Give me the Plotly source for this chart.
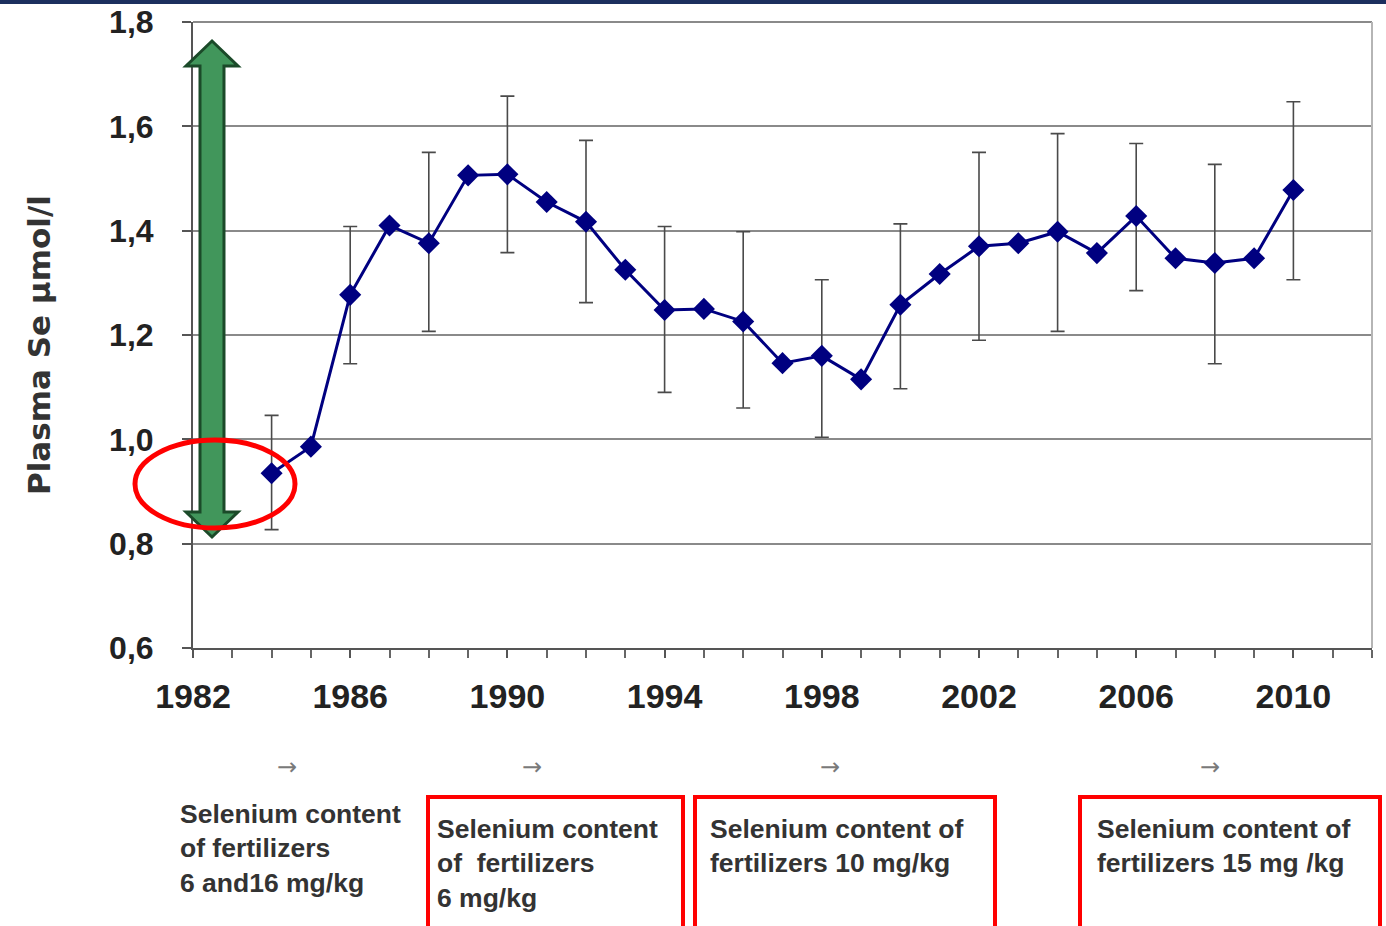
import plotly.graph_objects as go

# ---- data ----
years = list(range(1984, 2011))
plasma_se = [0.935, 0.986, 1.277, 1.41, 1.376, 1.506, 1.508, 1.455, 1.417, 1.325,
             1.248, 1.25, 1.226, 1.146, 1.16, 1.115, 1.258, 1.317, 1.37, 1.376,
             1.398, 1.357, 1.428, 1.347, 1.338, 1.347, 1.478]
err_plus = [0.111, None, 0.131, None, 0.174, None, 0.15, None, 0.156, None,
            0.16, None, 0.172, None, 0.146, None, 0.155, None, 0.18, None,
            0.188, None, 0.139, None, 0.189, None, 0.169]
err_minus = [0.108, None, 0.132, None, 0.169, None, 0.15, None, 0.155, None,
             0.158, None, 0.166, None, 0.156, None, 0.161, None, 0.18, None,
             0.191, None, 0.143, None, 0.193, None, 0.172]
y_ticks = [0.6, 0.8, 1.0, 1.2, 1.4, 1.6, 1.8]
y_tick_text = ["0,6", "0,8", "1,0", "1,2", "1,4", "1,6", "1,8"]
x_ticks = [1982, 1986, 1990, 1994, 1998, 2002, 2006, 2010]
y_title = "Plasma Se µmol/l"
notes = [
    "Selenium content<br>of fertilizers<br>6 and16 mg/kg",
    "Selenium content<br>of  fertilizers<br>6 mg/kg",
    "Selenium content of<br>fertilizers 10 mg/kg",
    "Selenium content of<br>fertilizers 15 mg /kg",
]

# ---- layout geometry (pixels) ----
W, H = 1386, 926
L, R, T, B = 193, 1372, 22, 648
PW, PH = R - L, B - T


def px(x):
    return (x - L) / PW


def py(y):
    return (B - y) / PH


ep = [e if e is not None else 0 for e in err_plus]
em = [e if e is not None else 0 for e in err_minus]
has_err = [e is not None for e in err_plus]

fig = go.Figure()
# error bars (only where defined)
fig.add_trace(go.Scatter(
    x=[x for x, h in zip(years, has_err) if h],
    y=[v for v, h in zip(plasma_se, has_err) if h],
    mode="markers", marker=dict(size=1, color="rgba(0,0,0,0)"),
    error_y=dict(type="data", symmetric=False,
                 array=[e for e, h in zip(ep, has_err) if h],
                 arrayminus=[e for e, h in zip(em, has_err) if h],
                 color="#4a4a4a", thickness=1.6, width=7),
    showlegend=False, hoverinfo="skip"))
fig.add_trace(go.Scatter(
    x=years, y=plasma_se, mode="lines+markers",
    line=dict(color="#000080", width=3),
    marker=dict(symbol="diamond", size=17, color="#000080"),
    showlegend=False))

shapes = []
# top navy bar
shapes.append(dict(type="rect", xref="paper", yref="paper",
                   x0=px(0), x1=px(W), y0=py(4), y1=py(-2),
                   fillcolor="#1c2f5e", line=dict(width=0), layer="above"))
# right border and top gridline of plot
shapes.append(dict(type="line", xref="paper", yref="paper",
                   x0=1, x1=1, y0=0, y1=1, line=dict(color="#b5b5b5", width=2)))
shapes.append(dict(type="line", xref="paper", yref="paper",
                   x0=0, x1=1, y0=1, y1=1, line=dict(color="#8a8a8a", width=2),
                   layer="below"))

# green double arrow
pts = [(212, 41), (238, 66), (224, 66), (224, 512), (238, 512), (212, 537),
       (186, 512), (200, 512), (200, 66), (186, 66)]
path = "M " + " L ".join(f"{px(a):.5f},{py(b):.5f}" for a, b in pts) + " Z"
shapes.append(dict(type="path", xref="paper", yref="paper", path=path,
                   fillcolor="#41965b", line=dict(color="#1b4a29", width=3),
                   layer="above"))
# red ellipse
shapes.append(dict(type="circle", xref="paper", yref="paper",
                   x0=px(135), x1=px(295), y0=py(528), y1=py(440),
                   line=dict(color="#ff0000", width=5), layer="above"))
# red boxes
for x0, x1 in [(428, 683), (695, 995), (1080, 1380)]:
    shapes.append(dict(type="rect", xref="paper", yref="paper",
                       x0=px(x0), x1=px(x1), y0=py(960), y1=py(797),
                       line=dict(color="#ff0000", width=4),
                       fillcolor="rgba(0,0,0,0)", layer="above"))

annotations = []
annotations.append(dict(text=y_title, textangle=-90, xref="paper", yref="paper",
                        x=px(39), y=py(345), showarrow=False,
                        xanchor="center", yanchor="middle",
                        font=dict(family="DejaVu Sans", size=31, color="#333333",
                                  weight="bold")))
for (xl, yt), t in zip([(178, 797), (435, 812), (708, 812), (1095, 812)], notes):
    annotations.append(dict(text=t, xref="paper", yref="paper", x=px(xl), y=py(yt),
                            xanchor="left", yanchor="top", align="left",
                            showarrow=False,
                            font=dict(family="Liberation Sans", size=26.5,
                                      color="#333333", weight="bold")))
for xa in [287, 532, 830, 1210]:
    annotations.append(dict(text="→", xref="paper", yref="paper", x=px(xa), y=py(767),
                            xanchor="center", yanchor="middle", showarrow=False,
                            font=dict(family="DejaVu Sans", size=24, color="#7a7a7a")))

fig.update_layout(
    width=W, height=H,
    margin=dict(l=L, r=W - R, t=T, b=H - B, pad=0, autoexpand=False),
    paper_bgcolor="white", plot_bgcolor="white",
    shapes=shapes, annotations=annotations,
    xaxis=dict(range=[1982, 2012], tickvals=x_ticks, ticktext=[str(v) for v in x_ticks],
               automargin=False,
               showgrid=False, zeroline=False, showline=True, linecolor="#555555",
               linewidth=2, ticks="outside", ticklen=8, tickcolor="#555555",
               tickwidth=2, ticklabelstandoff=9,
               minor=dict(dtick=1, tick0=1982, ticks="outside", ticklen=8,
                          tickcolor="#666666", tickwidth=2, showgrid=False),
               tickfont=dict(family="Liberation Sans", size=34, color="#222222",
                             weight="bold")),
    yaxis=dict(range=[0.6, 1.8], tickvals=y_ticks, ticktext=y_tick_text,
               automargin=False,
               showgrid=True, gridcolor="#8a8a8a", gridwidth=2, zeroline=False,
               showline=True, linecolor="#555555", linewidth=2,
               ticks="outside", ticklen=9, tickcolor="#555555", tickwidth=2,
               ticklabelstandoff=22,
               tickfont=dict(family="Liberation Sans", size=32, color="#222222",
                             weight="bold")),
)

fig.write_html("out.html")
